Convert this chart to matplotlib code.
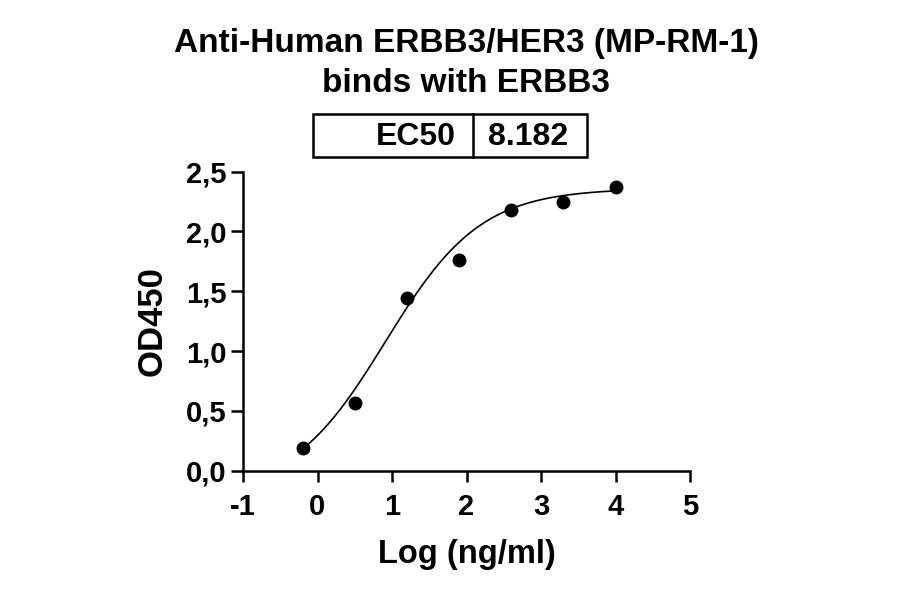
import numpy as np
import matplotlib
matplotlib.use("Agg")
import matplotlib.pyplot as plt
from matplotlib.patches import Rectangle
from matplotlib.lines import Line2D

# measured points: log10 concentration (ng/ml) vs OD450
log_conc = [-0.194, 0.505, 1.204, 1.903, 2.602, 3.301, 4.0]
od450 = [0.19, 0.57, 1.44, 1.76, 2.18, 2.25, 2.37]

# 4PL fit parameters
bottom, top, hill = -0.2, 2.36, 0.68
ec50 = 8.182

xticks = [-1, 0, 1, 2, 3, 4, 5]
yticks = [0.0, 0.5, 1.0, 1.5, 2.0, 2.5]
ytick_labels = ["0,0", "0,5", "1,0", "1,5", "2,0", "2,5"]

plt.rcParams["font.family"] = ["Liberation Sans", "DejaVu Sans"]
plt.rcParams["font.weight"] = "bold"
plt.rcParams["axes.unicode_minus"] = False

W, H = 900, 594
fig = plt.figure(figsize=(W / 100, H / 100), dpi=100)
ax = fig.add_axes([243 / W, 1 - 470.7 / H, 447 / W, 299 / H])

xs = np.linspace(min(log_conc), max(log_conc), 300)
fit = bottom + (top - bottom) / (1 + 10 ** ((np.log10(ec50) - xs) * hill))
ax.plot(xs, fit, color="black", lw=1.2, zorder=2)
ax.plot(log_conc, od450, "o", color="black", ms=9, zorder=3, clip_on=False)

ax.set_xlim(-1, 5)
ax.set_ylim(0, 2.5)
ax.set_xticks(xticks)
ax.set_yticks(yticks)
ax.set_yticklabels(ytick_labels)
for s in ["top", "right"]:
    ax.spines[s].set_visible(False)
for s in ["left", "bottom"]:
    ax.spines[s].set_linewidth(1.8)
ax.tick_params(axis="x", length=8, width=1.8, labelsize=21, pad=8)
ax.tick_params(axis="y", length=9, width=1.8, labelsize=21, pad=3)
for lab in ax.get_xticklabels() + ax.get_yticklabels():
    lab.set_fontweight("bold")

ax.set_xlabel("Log (ng/ml)", fontsize=23.5, fontweight="bold", labelpad=13)
ax.set_ylabel("OD450", fontsize=25, fontweight="bold", labelpad=12)

# two-line title
fig.text(466 / W, 1 - 52.3 / H, "Anti-Human ERBB3/HER3 (MP-RM-1)", ha="center",
         va="baseline", fontsize=24, fontweight="bold")
fig.text(466 / W, 1 - 91.7 / H, "binds with ERBB3", ha="center",
         va="baseline", fontsize=24, fontweight="bold")

# EC50 box
bx0, bx1, by0, by1, bdiv = 312.7, 587.3, 114, 156.7, 473.3
fig.patches.append(Rectangle((bx0 / W, 1 - by1 / H), (bx1 - bx0) / W, (by1 - by0) / H,
                             transform=fig.transFigure, fill=False, lw=1.8, ec="black"))
fig.lines.append(Line2D([bdiv / W, bdiv / W], [1 - by0 / H, 1 - by1 / H],
                        transform=fig.transFigure, lw=1.8, color="black"))
fig.text(456 / W, 1 - 145 / H, "EC50", ha="right", va="baseline", fontsize=23, fontweight="bold")
fig.text(528 / W, 1 - 145 / H, f"{ec50:.3f}", ha="center", va="baseline", fontsize=23,
         fontweight="bold")

fig.savefig("out.png", dpi=100)
